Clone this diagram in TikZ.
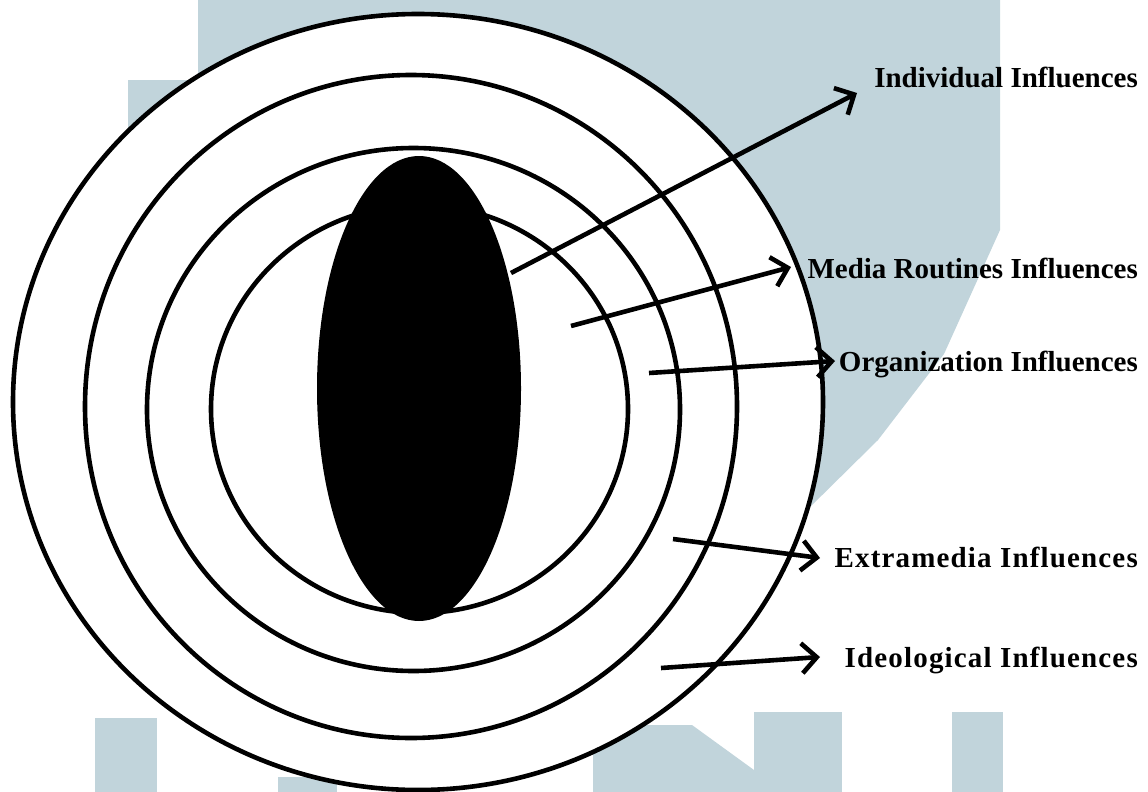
\documentclass[tikz,border=0pt]{standalone}
\usepackage{fontspec}
\setmainfont{Liberation Serif}
\usepackage{xcolor}
\usetikzlibrary{arrows.meta,positioning,shapes.geometric}
\definecolor{wmblue}{RGB}{193,212,219}

\begin{document}
\begin{tikzpicture}[x=1pt,y=-1pt]
  \tikzset{ring/.style={draw,ellipse,line width=4.6pt,fill=white,inner sep=0pt},
    lbl/.style={font=\bfseries\fontsize{29}{34}\selectfont,anchor=base east,inner sep=0pt},
    lblwide/.style={lbl,font=\bfseries\fontsize{29}{34}\selectfont\addfontfeature{LetterSpace=4}},
    pointer/.style={line width=4.6pt,-{Straight Barb[length=15pt,width=30pt]}}}
  \useasboundingbox (0,0) rectangle (1148,792);
  % faded logo behind the rings
  \fill[wmblue] (198,0) -- (1000,0) -- (1000,230) -- (944,354) -- (878,440) -- (805,512)
    -- (128,512) -- (128,80) -- (198,80) -- cycle;
  \fill[wmblue] (95,718) rectangle (157,792);
  \fill[wmblue] (278,777) rectangle (337,792);
  \fill[wmblue] (593,725) -- (692,725) -- (754,770) -- (754,792) -- (593,792) -- cycle;
  \fill[wmblue] (754,712) rectangle (842,792);
  \fill[wmblue] (952,712) rectangle (1003,792);

  \node[ring,minimum width=810pt,minimum height=776pt] (ideoring) at (418,402) {};
  \node[ring,minimum width=652pt,minimum height=663pt] (extraring) at (411,406.5) {};
  \node[ring,minimum width=533pt,minimum height=523pt] (orgring) at (413.5,409.5) {};
  \node[ring,minimum width=417pt,minimum height=408pt] (routring) at (419.5,409) {};
  \node[ellipse,fill=black,minimum width=204pt,minimum height=465pt] (core) at (419,388.5) {};

  \node[lbl] (indiv) at (1138,88) {Individual Influences};
  \node[lbl] (rout) at (1138,278) {Media Routines Influences};
  \node[lbl] (org) at (1138,371) {Organization Influences};
  \node[lblwide] (extra) at (1138,567) {Extramedia Influences};
  \node[lblwide] (ideo) at (1138,667) {Ideological Influences};

  \coordinate (indivfrom) at (511,273);
  \coordinate (indivto) at (857,93);
  \coordinate (routfrom) at (571,326);
  \coordinate (routto) at (791,267);
  \coordinate (orgfrom) at (649,373);
  \coordinate (orgto) at (835,361);
  \coordinate (extrafrom) at (673,539);
  \coordinate (extrato) at (820,558);
  \coordinate (ideofrom) at (661,668);
  \coordinate (ideoto) at (820,657);

  \draw[pointer] (indivfrom) -- (indivto);
  \draw[pointer] (routfrom) -- (routto);
  \draw[pointer] (orgfrom) -- (orgto);
  \draw[pointer] (extrafrom) -- (extrato);
  \draw[pointer] (ideofrom) -- (ideoto);
\end{tikzpicture}
\end{document}
